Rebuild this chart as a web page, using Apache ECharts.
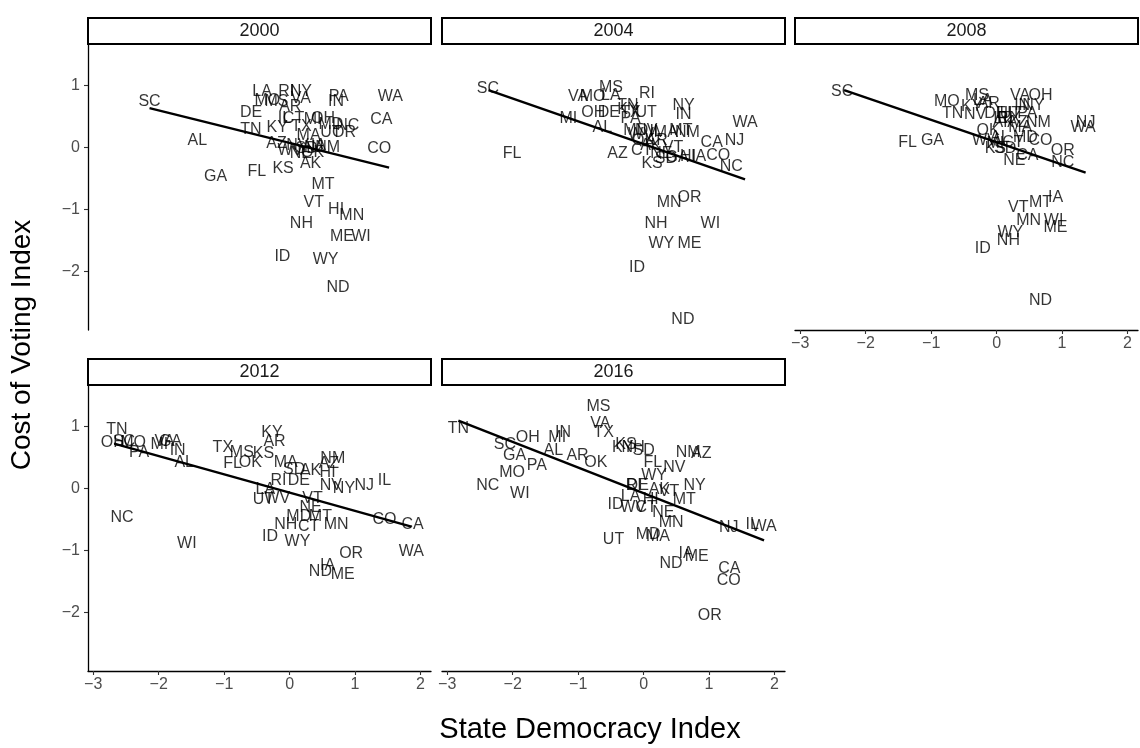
<!DOCTYPE html>
<html><head><meta charset="utf-8">
<script src="https://cdn.jsdelivr.net/npm/echarts@6/dist/echarts.min.js"></script>
<style>html,body{margin:0;padding:0;background:#fff}#c{width:1140px;height:748px}</style>
</head><body><div id="c"></div>
<script>
const years = ['2000','2004','2008','2012','2016'];
const xTicks = [-3,-2,-1,0,1,2];
const yTicks = [-2,-1,0,1];
const xTitle = 'State Democracy Index';
const yTitle = 'Cost of Voting Index';

const pts2000 = [['SC',-2.14,0.73],['AL',-1.41,0.11],['GA',-1.13,-0.48],['FL',-0.50,-0.39],['DE',-0.59,0.56],['TN',-0.59,0.29],['KS',-0.10,-0.34],['AK',0.32,-0.27],['MT',0.51,-0.61],['VT',0.37,-0.89],['HI',0.71,-1.00],['MN',0.95,-1.11],['NH',0.18,-1.24],['ME',0.80,-1.44],['WI',1.09,-1.44],['ID',-0.11,-1.77],['WY',0.55,-1.81],['ND',0.74,-2.27],['WA',1.54,0.82],['CA',1.40,0.45],['CO',1.37,-0.02],['PA',0.75,0.82],['IN',0.71,0.73],['LA',-0.42,0.89],['RI',-0.05,0.90],['NY',0.17,0.89],['VA',0.17,0.79],['MO',-0.34,0.76],['MS',-0.20,0.74],['AR',0.01,0.66],['KY',-0.19,0.32],['IL',-0.08,0.47],['CT',0.06,0.47],['OH',0.51,0.47],['MI',0.35,0.44],['TX',0.18,0.34],['MD',0.63,0.37],['NC',0.89,0.35],['OR',0.83,0.24],['MA',0.29,0.19],['UT',0.63,0.23],['AZ',-0.20,0.06],['NV',0.12,0.03],['NJ',0.37,0.00],['NM',0.58,0.00],['NE',0.17,-0.10],['OK',0.35,-0.08],['SD',0.26,-0.03],['IA',0.44,0.02],['WV',0.01,-0.05]];
const pts2004 = [['SC',-2.38,0.95],['VA',-1.00,0.81],['MO',-0.78,0.81],['LA',-0.50,0.84],['MS',-0.50,0.97],['RI',0.05,0.87],['MI',-1.15,0.47],['OH',-0.77,0.56],['DE',-0.53,0.56],['TN',-0.24,0.68],['KY',-0.24,0.60],['TX',-0.20,0.56],['PA',-0.20,0.47],['UT',0.04,0.56],['AL',-0.63,0.31],['FL',-2.01,-0.10],['AZ',-0.40,-0.10],['CT',-0.03,-0.05],['KS',0.13,-0.26],['NY',0.61,0.68],['IN',0.61,0.52],['WA',1.55,0.40],['MT',0.57,0.27],['NM',0.67,0.23],['MA',0.34,0.24],['MD',-0.12,0.27],['NV',0.04,0.27],['WV',-0.04,0.21],['IL',0.19,0.26],['CA',1.04,0.08],['NJ',1.39,0.11],['CO',1.14,-0.13],['NC',1.34,-0.32],['OK',0.00,0.11],['AR',0.20,0.10],['NE',0.27,-0.10],['SD',0.34,-0.18],['HI',0.68,-0.15],['IA',0.84,-0.15],['GA',0.51,-0.16],['AK',0.11,0.03],['VT',0.45,0.00],['MN',0.39,-0.89],['OR',0.70,-0.82],['NH',0.19,-1.23],['WI',1.02,-1.23],['WY',0.27,-1.55],['ME',0.70,-1.55],['ID',-0.10,-1.95],['ND',0.60,-2.79]];
const pts2008 = [['SC',-2.36,0.89],['MO',-0.76,0.73],['TN',-0.67,0.55],['FL',-1.36,0.08],['GA',-0.98,0.10],['KY',-0.38,0.66],['MS',-0.30,0.84],['LA',-0.21,0.76],['AR',-0.12,0.71],['VA',0.36,0.84],['OH',0.67,0.84],['IN',0.39,0.68],['NY',0.56,0.68],['NV',-0.33,0.53],['DE',-0.02,0.55],['HI',0.12,0.55],['UT',0.21,0.55],['PA',0.47,0.55],['NM',0.64,0.39],['WA',1.32,0.31],['NJ',1.36,0.39],['OK',-0.13,0.27],['AK',0.10,0.39],['AZ',0.32,0.39],['AL',0.05,0.16],['MD',0.44,0.16],['CO',0.67,0.10],['KS',-0.02,-0.02],['SD',0.13,-0.02],['CT',0.25,0.08],['NE',0.27,-0.21],['CA',0.47,-0.13],['OR',1.01,-0.05],['NC',1.01,-0.24],['VT',0.33,-0.98],['MT',0.67,-0.90],['IA',0.90,-0.82],['MN',0.49,-1.18],['WI',0.87,-1.18],['ME',0.90,-1.29],['WY',0.21,-1.37],['NH',0.18,-1.50],['ID',-0.21,-1.63],['ND',0.67,-2.47],['TX',0.21,0.47],['IL',0.05,0.47],['MA',0.36,0.31],['MI',-0.02,0.06],['RI',0.13,0.47],['WV',-0.18,0.11]];
const pts2012 = [['TN',-2.64,0.95],['OH',-2.70,0.73],['SC',-2.53,0.75],['MO',-2.39,0.73],['PA',-2.30,0.57],['MI',-1.99,0.71],['VA',-1.91,0.75],['GA',-1.82,0.75],['IN',-1.71,0.60],['AL',-1.61,0.41],['TX',-1.02,0.65],['MS',-0.73,0.57],['KS',-0.40,0.56],['KY',-0.27,0.89],['AR',-0.23,0.75],['FL',-0.87,0.40],['OK',-0.60,0.41],['MA',-0.06,0.41],['SD',0.07,0.30],['RI',-0.17,0.13],['DE',0.14,0.13],['LA',-0.37,-0.03],['UT',-0.40,-0.19],['WV',-0.19,-0.16],['NC',-2.56,-0.48],['NH',-0.06,-0.59],['NM',0.66,0.48],['AZ',0.60,0.40],['AK',0.32,0.29],['HI',0.58,0.25],['NV',0.63,0.05],['NY',0.83,0.00],['NJ',1.14,0.05],['IL',1.45,0.13],['VT',0.35,-0.16],['NE',0.32,-0.32],['MD',0.14,-0.46],['MT',0.47,-0.46],['CT',0.29,-0.62],['MN',0.71,-0.59],['CO',1.45,-0.51],['CA',1.88,-0.59],['ID',-0.30,-0.78],['WY',0.12,-0.86],['OR',0.94,-1.05],['WA',1.86,-1.03],['IA',0.58,-1.25],['ND',0.47,-1.35],['ME',0.81,-1.40],['WI',-1.57,-0.89]];
const pts2016 = [['MS',-0.69,1.32],['VA',-0.66,1.05],['TX',-0.61,0.89],['TN',-2.83,0.97],['OH',-1.77,0.81],['MI',-1.32,0.81],['IN',-1.23,0.89],['SC',-2.12,0.71],['GA',-1.97,0.52],['AL',-1.38,0.60],['AR',-1.01,0.52],['OK',-0.73,0.41],['PA',-1.63,0.37],['MO',-2.01,0.25],['NC',-2.38,0.05],['WI',-1.89,-0.08],['KS',-0.27,0.71],['KY',-0.32,0.65],['NH',-0.16,0.65],['SD',0.00,0.60],['NM',0.68,0.57],['AZ',0.88,0.56],['FL',0.14,0.41],['NV',0.47,0.33],['WY',0.16,0.21],['NY',0.78,0.05],['DE',-0.09,0.05],['RI',-0.15,0.05],['AK',0.24,-0.03],['VT',0.39,-0.06],['MT',0.62,-0.19],['LA',-0.20,-0.14],['HI',0.11,-0.19],['ID',-0.43,-0.27],['WV',-0.16,-0.32],['CT',0.04,-0.32],['NE',0.30,-0.40],['MN',0.42,-0.56],['UT',-0.46,-0.83],['MD',0.07,-0.75],['MA',0.22,-0.78],['IL',1.66,-0.59],['WA',1.84,-0.62],['NJ',1.30,-0.63],['ND',0.42,-1.22],['IA',0.65,-1.06],['ME',0.81,-1.10],['CA',1.31,-1.30],['CO',1.30,-1.49],['OR',1.01,-2.06]];
const allPts = [pts2000, pts2004, pts2008, pts2012, pts2016];

const fit2000 = [[-2.14,0.63],[1.52,-0.33]];
const fit2004 = [[-2.37,0.92],[1.55,-0.52]];
const fit2008 = [[-2.33,0.92],[1.36,-0.41]];
const fit2012 = [[-2.68,0.72],[1.86,-0.62]];
const fit2016 = [[-2.83,1.09],[1.84,-0.84]];
const allFits = [fit2000, fit2004, fit2008, fit2012, fit2016];

// layout
const colLeft = [88, 442, 795];
const panelW = 343;
const rowTop = [45, 386];
const panelH = 285;
const stripH = 27;
const pos = [[0,0],[0,1],[0,2],[1,0],[1,1]];
const showX = [false,false,true,true,true];
const showY = [true,false,false,true,false];

const minus = v => (v < 0 ? '\u2212' + Math.abs(v) : String(v));
const tickColor = '#4d4d4d';
const font = 'Liberation Sans, Arial, sans-serif';

const grids = [], xAxes = [], yAxes = [], series = [], graphics = [];
pos.forEach((p, i) => {
  const left = colLeft[p[1]], top = rowTop[p[0]];
  grids.push({left: left, top: top, width: panelW, height: panelH, containLabel: false});
  xAxes.push({
    type: 'value', gridIndex: i, min: -3.08, max: 2.16,
    splitLine: {show: false},
    axisLine: {show: showX[i], onZero: false, lineStyle: {color: '#000', width: 1.3}},
    axisTick: {show: showX[i], customValues: xTicks, length: 4, lineStyle: {color: '#333', width: 1.1}},
    axisLabel: {show: showX[i], customValues: xTicks, formatter: minus, color: tickColor, fontSize: 16, fontFamily: font, margin: 6}
  });
  yAxes.push({
    type: 'value', gridIndex: i, min: -2.95, max: 1.65,
    splitLine: {show: false},
    axisLine: {show: showY[i], onZero: false, lineStyle: {color: '#000', width: 1.3}},
    axisTick: {show: showY[i], customValues: yTicks, length: 4, lineStyle: {color: '#333', width: 1.1}},
    axisLabel: {show: showY[i], customValues: yTicks, formatter: minus, color: tickColor, fontSize: 16, fontFamily: font, margin: 8}
  });
  series.push({
    type: 'scatter', xAxisIndex: i, yAxisIndex: i, symbolSize: 0.01, silent: true,
    data: allPts[i].map(d => ({name: d[0], value: [d[1], d[2]]})),
    label: {show: true, position: 'inside', formatter: '{b}', color: '#000', fontSize: 16, fontFamily: font},
    labelLayout: {hideOverlap: false},
    z: 3
  });
  series.push({
    type: 'line', xAxisIndex: i, yAxisIndex: i, data: allFits[i], symbol: 'none', silent: true,
    lineStyle: {color: '#000', width: 2.4}, z: 4
  });
  graphics.push({
    type: 'rect', shape: {x: left, y: top - stripH, width: panelW, height: stripH - 1},
    style: {fill: '#fff', stroke: '#000', lineWidth: 2}
  });
  graphics.push({
    type: 'text', x: left + panelW / 2, y: top - stripH / 2 - 0.5,
    style: {text: years[i], fill: '#1a1a1a', font: '18px ' + font, textAlign: 'center', textVerticalAlign: 'middle'}
  });
});
graphics.push({type: 'text', x: 590, y: 730, style: {text: xTitle, fill: '#000', font: '29px ' + font, textAlign: 'center', textVerticalAlign: 'middle'}});
graphics.push({type: 'text', x: 22, y: 345, rotation: Math.PI / 2, style: {text: yTitle, fill: '#000', font: '28px ' + font, textAlign: 'center', textVerticalAlign: 'middle'}});

const chart = echarts.init(document.getElementById('c'), null, {renderer: 'canvas'});
chart.setOption({
  animation: false,
  backgroundColor: '#fff',
  grid: grids, xAxis: xAxes, yAxis: yAxes, series: series, graphic: graphics
});
</script></body></html>
